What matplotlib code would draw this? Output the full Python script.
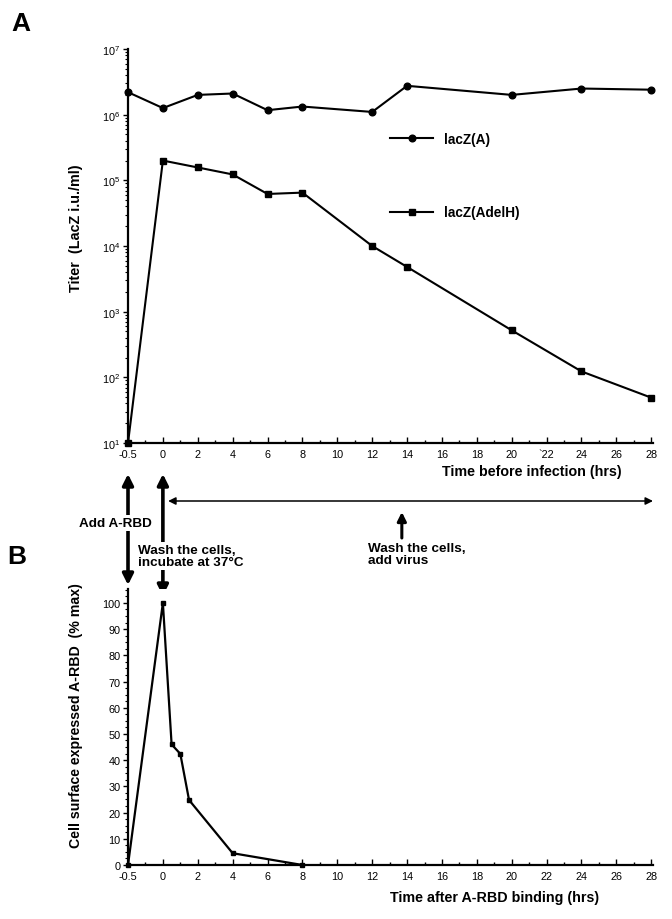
import matplotlib
matplotlib.use("Agg")
import matplotlib.pyplot as plt
from matplotlib.ticker import FixedLocator, LogLocator, MultipleLocator, NullFormatter

plt.rcParams['font.family'] = ['Liberation Sans', 'DejaVu Sans']
plt.rcParams['mathtext.default'] = 'regular'

# panel A: titer vs time before infection
time_a = [-0.5, 0, 2, 4, 6, 8, 12, 14, 20, 24, 28]
lacz_a = [2.2e6, 1.26e6, 2.0e6, 2.1e6, 1.17e6, 1.33e6, 1.1e6, 2.75e6, 2.0e6, 2.5e6, 2.4e6]
lacz_adelh = [10, 2.0e5, 1.57e5, 1.23e5, 6.2e4, 6.5e4, 1.0e4, 4.8e3, 5.2e2, 1.23e2, 49]

# panel B: surface A-RBD vs time after binding
time_b = [-0.5, 0, 0.5, 1, 1.5, 4, 8]
surface = [0, 100, 46, 42.4, 24.8, 4.5, 0]

tick_hours = [-0.5] + list(range(0, 29, 2))
tick_labels_a = ['-0.5'] + [str(h) for h in range(0, 29, 2)]
tick_labels_a[tick_labels_a.index('22')] = '`22'
tick_labels_b = ['-0.5'] + [str(h) for h in range(0, 29, 2)]


def pos(t):
    # -0.5 h is drawn one tick-step left of 0 (broken axis)
    return -2 if t == -0.5 else t


W, H = 672, 920
fig = plt.figure(figsize=(W / 100, H / 100), dpi=100)


def px_axes(l, t, r, b):
    return fig.add_axes([l / W, 1 - b / H, (r - l) / W, (b - t) / H])


def style(ax, labels):
    for s in ['top', 'right']:
        ax.spines[s].set_visible(False)
    for s in ['left', 'bottom']:
        ax.spines[s].set_linewidth(1.6)
    ax.set_xlim(-2, 28.1)
    ax.xaxis.set_major_locator(FixedLocator([pos(h) for h in tick_hours]))
    ax.set_xticklabels(labels)
    ax.xaxis.set_minor_locator(FixedLocator(list(range(-1, 28, 2))))
    ax.tick_params(axis='x', which='both', direction='in', labelsize=7.8, pad=4)
    ax.tick_params(axis='x', which='major', length=4, width=1)
    ax.tick_params(axis='x', which='minor', length=2.5, width=1)
    ax.tick_params(axis='y', which='both', direction='out', labelsize=7.8, pad=2)
    ax.tick_params(axis='y', which='major', length=3.5, width=1)
    ax.tick_params(axis='y', which='minor', length=2, width=0.8)


axA = px_axes(128, 50, 653, 444)
xa = [pos(t) for t in time_a]
axA.plot(xa, lacz_a, color='black', lw=1.5, marker='o', ms=4.8, clip_on=False, label='lacZ(A)')
axA.plot(xa, lacz_adelh, color='black', lw=1.5, marker='s', ms=4.5, clip_on=False, label='lacZ(AdelH)')
axA.set_yscale('log')
axA.set_ylim(10, 1e7)
axA.yaxis.set_major_locator(LogLocator(base=10, numticks=10))
axA.yaxis.set_minor_locator(LogLocator(base=10, subs=range(2, 10), numticks=20))
axA.yaxis.set_minor_formatter(NullFormatter())
style(axA, tick_labels_a)
axA.set_ylabel('Titer  (LacZ i.u./ml)', fontsize=10.4, fontweight='bold')
axA.yaxis.set_label_coords(-0.086, 0.548)
axA.set_xlabel('Time before infection (hrs)', fontsize=10.3, fontweight='bold')
axA.xaxis.set_label_coords(0.77, -0.053)
axA.legend(loc='upper left', bbox_to_anchor=(383 / W, 1 - 126 / H), bbox_transform=fig.transFigure,
           frameon=False, handlelength=3.2, handletextpad=0.8, labelspacing=4.38,
           borderpad=0, prop={'size': 9.8, 'weight': 'bold'})

axB = px_axes(128, 590, 653, 866)
xb = [pos(t) for t in time_b]
axB.plot(xb, surface, color='black', lw=1.6, marker='s', ms=3, clip_on=False)
axB.set_ylim(0, 105.3)
axB.yaxis.set_major_locator(FixedLocator(list(range(0, 101, 10))))
axB.yaxis.set_minor_locator(MultipleLocator(2.5))
style(axB, tick_labels_b)
axB.set_ylabel('Cell surface expressed A-RBD  (% max)', fontsize=10.2, fontweight='bold')
axB.yaxis.set_label_coords(-0.086, 0.545)
axB.set_xlabel('Time after A-RBD binding (hrs)', fontsize=10.3, fontweight='bold')
axB.xaxis.set_label_coords(0.698, -0.092)

# timeline arrows between the panels (x in panel data, y in figure pixels)
coords = (axA.transData, 'figure pixels')


def arrow(x0, y0, x1, y1, style, lw, scale):
    axA.annotate('', xy=(x1, H - y1), xytext=(x0, H - y0), xycoords=coords, textcoords=coords,
                 arrowprops=dict(arrowstyle=style, color='black', lw=lw, mutation_scale=scale,
                                 shrinkA=0, shrinkB=0), annotation_clip=False)


arrow(pos(-0.5), 475, pos(-0.5), 586, '<|-|>', 2.6, 16)
arrow(pos(0), 475, pos(0), 597, '<|-|>', 2.6, 16)
arrow(0.3, 502, 28.1, 502, '<|-|>', 1.1, 11)
arrow(13.7, 539, 13.7, 513, '-|>', 2.2, 13)

txt = dict(fontsize=9.7, fontweight='bold', color='black')
fig.text(115 / W, 1 - 524 / H, 'Add A-RBD', ha='center', va='center',
         bbox=dict(facecolor='white', edgecolor='none', pad=1.5), **txt)
fig.text(138 / W, 1 - 557 / H, 'Wash the cells,\nincubate at 37°C', ha='left', va='center',
         linespacing=1.0, bbox=dict(facecolor='white', edgecolor='none', pad=1.5), **txt)
fig.text(368 / W, 1 - 555 / H, 'Wash the cells,\nadd virus', ha='left', va='center',
         linespacing=1.0, **txt)

fig.text(21 / W, 1 - 24 / H, 'A', ha='center', va='center', fontsize=19, fontweight='bold')
fig.text(17 / W, 1 - 557 / H, 'B', ha='center', va='center', fontsize=19, fontweight='bold')

fig.savefig('out.png', dpi=100)
